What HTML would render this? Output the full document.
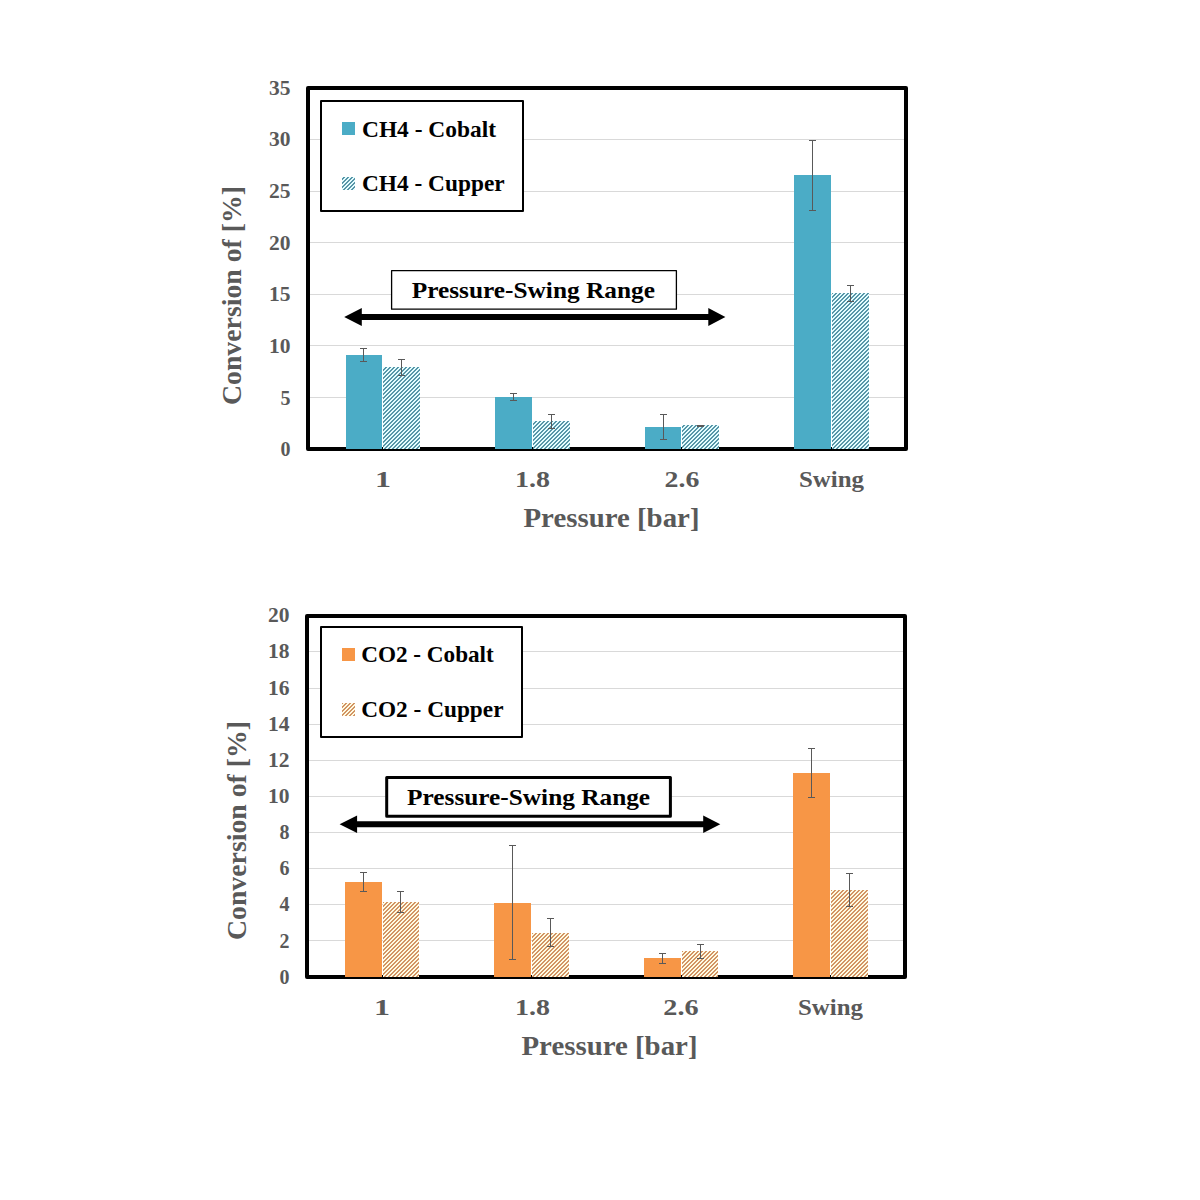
<!DOCTYPE html>
<html><head><meta charset="utf-8"><title>Conversion vs Pressure</title>
<style>html,body{margin:0;padding:0;background:#fff;width:1200px;height:1200px;overflow:hidden}svg{display:block}</style>
</head><body>
<svg width="1200" height="1200" viewBox="0 0 1200 1200" font-family="'Liberation Serif', serif" font-weight="bold">
<defs><pattern id="ph1" width="4" height="4" patternUnits="userSpaceOnUse"><rect width="4" height="4" fill="#e4fdff"/><rect x="0" y="0" width="1" height="1" fill="#5896a8"/><rect x="1" y="0" width="1" height="1" fill="#5896a8"/><rect x="0" y="1" width="1" height="1" fill="#5896a8"/><rect x="3" y="1" width="1" height="1" fill="#5896a8"/><rect x="2" y="2" width="1" height="1" fill="#5896a8"/><rect x="3" y="2" width="1" height="1" fill="#5896a8"/><rect x="1" y="3" width="1" height="1" fill="#5896a8"/><rect x="2" y="3" width="1" height="1" fill="#5896a8"/></pattern><pattern id="ph2" width="4" height="4" patternUnits="userSpaceOnUse"><rect width="4" height="4" fill="#fffbe2"/><rect x="0" y="0" width="1" height="1" fill="#d29464"/><rect x="1" y="0" width="1" height="1" fill="#d29464"/><rect x="0" y="1" width="1" height="1" fill="#d29464"/><rect x="3" y="1" width="1" height="1" fill="#d29464"/><rect x="2" y="2" width="1" height="1" fill="#d29464"/><rect x="3" y="2" width="1" height="1" fill="#d29464"/><rect x="1" y="3" width="1" height="1" fill="#d29464"/><rect x="2" y="3" width="1" height="1" fill="#d29464"/></pattern></defs>
<rect width="1200" height="1200" fill="#fff"/>
<rect x="310" y="139" width="594" height="1" fill="#d9d9d9"/>
<rect x="310" y="191" width="594" height="1" fill="#d9d9d9"/>
<rect x="310" y="242" width="594" height="1" fill="#d9d9d9"/>
<rect x="310" y="294" width="594" height="1" fill="#d9d9d9"/>
<rect x="310" y="345" width="594" height="1" fill="#d9d9d9"/>
<rect x="310" y="397" width="594" height="1" fill="#d9d9d9"/>
<rect x="308" y="88" width="598" height="361" fill="none" stroke="#000" stroke-width="4" stroke-linejoin="round"/>
<rect x="321" y="101" width="202" height="110" fill="#fff" stroke="#000" stroke-width="2" stroke-linejoin="round"/>
<rect x="391.6" y="270.6" width="284.8" height="38.6" fill="#fff" stroke="#000" stroke-width="1.3" stroke-linejoin="round"/>
<path d="M344.2,317 L361.8,308 L361.8,314.0 L708.3,314.0 L708.3,308 L725.4,317 L708.3,326 L708.3,320.0 L361.8,320.0 L361.8,326 Z" fill="#000"/>
<rect x="346" y="355" width="36" height="94" fill="#4bacc6"/>
<rect x="383" y="367" width="37" height="82" fill="url(#ph1)"/>
<rect x="495" y="397" width="37" height="52" fill="#4bacc6"/>
<rect x="533" y="421" width="37" height="28" fill="url(#ph1)"/>
<rect x="645" y="427" width="36" height="22" fill="#4bacc6"/>
<rect x="682" y="425" width="37" height="24" fill="url(#ph1)"/>
<rect x="794" y="175" width="37" height="274" fill="#4bacc6"/>
<rect x="832" y="293" width="37" height="156" fill="url(#ph1)"/>
<rect x="363" y="348" width="1" height="13" fill="#595959"/>
<rect x="360" y="348" width="7" height="1" fill="#595959"/>
<rect x="360" y="361" width="7" height="1" fill="#595959"/>
<rect x="401" y="359" width="1" height="16" fill="#595959"/>
<rect x="398" y="359" width="7" height="1" fill="#595959"/>
<rect x="398" y="375" width="7" height="1" fill="#595959"/>
<rect x="513" y="393" width="1" height="7" fill="#595959"/>
<rect x="510" y="393" width="7" height="1" fill="#595959"/>
<rect x="510" y="400" width="7" height="1" fill="#595959"/>
<rect x="551" y="414" width="1" height="14" fill="#595959"/>
<rect x="548" y="414" width="7" height="1" fill="#595959"/>
<rect x="548" y="428" width="7" height="1" fill="#595959"/>
<rect x="663" y="414" width="1" height="25" fill="#595959"/>
<rect x="660" y="414" width="7" height="1" fill="#595959"/>
<rect x="660" y="439" width="7" height="1" fill="#595959"/>
<rect x="700" y="425" width="1" height="1" fill="#595959"/>
<rect x="697" y="425" width="7" height="1" fill="#595959"/>
<rect x="697" y="426" width="7" height="1" fill="#595959"/>
<rect x="812" y="140" width="1" height="70" fill="#595959"/>
<rect x="809" y="140" width="7" height="1" fill="#595959"/>
<rect x="809" y="210" width="7" height="1" fill="#595959"/>
<rect x="850" y="285" width="1" height="16" fill="#595959"/>
<rect x="847" y="285" width="7" height="1" fill="#595959"/>
<rect x="847" y="301" width="7" height="1" fill="#595959"/>
<rect x="342" y="122" width="13" height="13" fill="#4bacc6"/>
<rect x="342" y="177" width="13" height="13" fill="url(#ph1)"/>
<text x="290.5" y="456.1" font-size="20" fill="#595959" text-anchor="end">0</text>
<text x="290.5" y="404.5" font-size="20" fill="#595959" text-anchor="end">5</text>
<text x="290.5" y="352.8" font-size="20" fill="#595959" text-anchor="end" textLength="21.5" lengthAdjust="spacingAndGlyphs">10</text>
<text x="290.5" y="301.2" font-size="20" fill="#595959" text-anchor="end" textLength="21.5" lengthAdjust="spacingAndGlyphs">15</text>
<text x="290.5" y="249.5" font-size="20" fill="#595959" text-anchor="end" textLength="21.5" lengthAdjust="spacingAndGlyphs">20</text>
<text x="290.5" y="197.9" font-size="20" fill="#595959" text-anchor="end" textLength="21.5" lengthAdjust="spacingAndGlyphs">25</text>
<text x="290.5" y="146.2" font-size="20" fill="#595959" text-anchor="end" textLength="21.5" lengthAdjust="spacingAndGlyphs">30</text>
<text x="290.5" y="94.6" font-size="20" fill="#595959" text-anchor="end" textLength="21.5" lengthAdjust="spacingAndGlyphs">35</text>
<text x="382.9" y="487" font-size="24" fill="#595959" text-anchor="middle" textLength="16" lengthAdjust="spacingAndGlyphs">1</text>
<text x="532.5" y="487" font-size="24" fill="#595959" text-anchor="middle" textLength="35" lengthAdjust="spacingAndGlyphs">1.8</text>
<text x="682" y="487" font-size="24" fill="#595959" text-anchor="middle" textLength="34.8" lengthAdjust="spacingAndGlyphs">2.6</text>
<text x="831.5" y="487" font-size="24" fill="#595959" text-anchor="middle" textLength="65" lengthAdjust="spacingAndGlyphs">Swing</text>
<text x="523.5" y="527.3" font-size="26.67" fill="#595959" textLength="176" lengthAdjust="spacingAndGlyphs">Pressure [bar]</text>
<text transform="translate(241,405) rotate(-90)" font-size="26.67" fill="#595959" textLength="219" lengthAdjust="spacingAndGlyphs">Conversion of [%]</text>
<text x="362" y="136.6" font-size="24" fill="#000" textLength="134" lengthAdjust="spacingAndGlyphs">CH4 - Cobalt</text>
<text x="362" y="190.9" font-size="24" fill="#000" textLength="142.6" lengthAdjust="spacingAndGlyphs">CH4 - Cupper</text>
<text x="411.7" y="297.8" font-size="24" fill="#000" textLength="243.3" lengthAdjust="spacingAndGlyphs">Pressure-Swing Range</text>
<rect x="309" y="940" width="594" height="1" fill="#d9d9d9"/>
<rect x="309" y="904" width="594" height="1" fill="#d9d9d9"/>
<rect x="309" y="868" width="594" height="1" fill="#d9d9d9"/>
<rect x="309" y="832" width="594" height="1" fill="#d9d9d9"/>
<rect x="309" y="796" width="594" height="1" fill="#d9d9d9"/>
<rect x="309" y="760" width="594" height="1" fill="#d9d9d9"/>
<rect x="309" y="724" width="594" height="1" fill="#d9d9d9"/>
<rect x="309" y="688" width="594" height="1" fill="#d9d9d9"/>
<rect x="309" y="651" width="594" height="1" fill="#d9d9d9"/>
<rect x="307" y="616" width="598" height="361" fill="none" stroke="#000" stroke-width="4" stroke-linejoin="round"/>
<rect x="321" y="627" width="201" height="110" fill="#fff" stroke="#000" stroke-width="2" stroke-linejoin="round"/>
<rect x="386.7" y="777.6" width="283.7" height="38.7" fill="#fff" stroke="#000" stroke-width="3" stroke-linejoin="round"/>
<path d="M339.6,824.2 L357.1,815.5 L357.1,821.2 L703.2,821.2 L703.2,815.5 L720.3,824.2 L703.2,832.9000000000001 L703.2,827.2 L357.1,827.2 L357.1,832.9000000000001 Z" fill="#000"/>
<rect x="345" y="882" width="37" height="95" fill="#f79646"/>
<rect x="383" y="902" width="36" height="75" fill="url(#ph2)"/>
<rect x="494" y="903" width="37" height="74" fill="#f79646"/>
<rect x="532" y="933" width="37" height="44" fill="url(#ph2)"/>
<rect x="644" y="958" width="37" height="19" fill="#f79646"/>
<rect x="682" y="951" width="36" height="26" fill="url(#ph2)"/>
<rect x="793" y="773" width="37" height="204" fill="#f79646"/>
<rect x="831" y="890" width="37" height="87" fill="url(#ph2)"/>
<rect x="363" y="872" width="1" height="19" fill="#595959"/>
<rect x="360" y="872" width="7" height="1" fill="#595959"/>
<rect x="360" y="891" width="7" height="1" fill="#595959"/>
<rect x="400" y="891" width="1" height="21" fill="#595959"/>
<rect x="397" y="891" width="7" height="1" fill="#595959"/>
<rect x="397" y="912" width="7" height="1" fill="#595959"/>
<rect x="512" y="845" width="1" height="114" fill="#595959"/>
<rect x="509" y="845" width="7" height="1" fill="#595959"/>
<rect x="509" y="959" width="7" height="1" fill="#595959"/>
<rect x="550" y="918" width="1" height="28" fill="#595959"/>
<rect x="547" y="918" width="7" height="1" fill="#595959"/>
<rect x="547" y="946" width="7" height="1" fill="#595959"/>
<rect x="662" y="953" width="1" height="10" fill="#595959"/>
<rect x="659" y="953" width="7" height="1" fill="#595959"/>
<rect x="659" y="963" width="7" height="1" fill="#595959"/>
<rect x="700" y="944" width="1" height="14" fill="#595959"/>
<rect x="697" y="944" width="7" height="1" fill="#595959"/>
<rect x="697" y="958" width="7" height="1" fill="#595959"/>
<rect x="811" y="748" width="1" height="49" fill="#595959"/>
<rect x="808" y="748" width="7" height="1" fill="#595959"/>
<rect x="808" y="797" width="7" height="1" fill="#595959"/>
<rect x="849" y="873" width="1" height="33" fill="#595959"/>
<rect x="846" y="873" width="7" height="1" fill="#595959"/>
<rect x="846" y="906" width="7" height="1" fill="#595959"/>
<rect x="342" y="648" width="13" height="13" fill="#f79646"/>
<rect x="342" y="703" width="13" height="13" fill="url(#ph2)"/>
<text x="289.5" y="983.6" font-size="20" fill="#595959" text-anchor="end">0</text>
<text x="289.5" y="947.5" font-size="20" fill="#595959" text-anchor="end">2</text>
<text x="289.5" y="911.4" font-size="20" fill="#595959" text-anchor="end">4</text>
<text x="289.5" y="875.2" font-size="20" fill="#595959" text-anchor="end">6</text>
<text x="289.5" y="839.0" font-size="20" fill="#595959" text-anchor="end">8</text>
<text x="289.5" y="802.9" font-size="20" fill="#595959" text-anchor="end" textLength="21.5" lengthAdjust="spacingAndGlyphs">10</text>
<text x="289.5" y="766.8" font-size="20" fill="#595959" text-anchor="end" textLength="21.5" lengthAdjust="spacingAndGlyphs">12</text>
<text x="289.5" y="730.6" font-size="20" fill="#595959" text-anchor="end" textLength="21.5" lengthAdjust="spacingAndGlyphs">14</text>
<text x="289.5" y="694.5" font-size="20" fill="#595959" text-anchor="end" textLength="21.5" lengthAdjust="spacingAndGlyphs">16</text>
<text x="289.5" y="658.3" font-size="20" fill="#595959" text-anchor="end" textLength="21.5" lengthAdjust="spacingAndGlyphs">18</text>
<text x="289.5" y="622.1" font-size="20" fill="#595959" text-anchor="end" textLength="21.5" lengthAdjust="spacingAndGlyphs">20</text>
<text x="382" y="1015" font-size="24" fill="#595959" text-anchor="middle" textLength="16" lengthAdjust="spacingAndGlyphs">1</text>
<text x="532.5" y="1015" font-size="24" fill="#595959" text-anchor="middle" textLength="35" lengthAdjust="spacingAndGlyphs">1.8</text>
<text x="681" y="1015" font-size="24" fill="#595959" text-anchor="middle" textLength="35.3" lengthAdjust="spacingAndGlyphs">2.6</text>
<text x="830.5" y="1015" font-size="24" fill="#595959" text-anchor="middle" textLength="65" lengthAdjust="spacingAndGlyphs">Swing</text>
<text x="521.5" y="1054.6" font-size="26.67" fill="#595959" textLength="176" lengthAdjust="spacingAndGlyphs">Pressure [bar]</text>
<text transform="translate(246,940) rotate(-90)" font-size="26.67" fill="#595959" textLength="219" lengthAdjust="spacingAndGlyphs">Conversion of [%]</text>
<text x="361.2" y="661.6" font-size="24" fill="#000" textLength="132.6" lengthAdjust="spacingAndGlyphs">CO2 - Cobalt</text>
<text x="361.2" y="716.8" font-size="24" fill="#000" textLength="142.3" lengthAdjust="spacingAndGlyphs">CO2 - Cupper</text>
<text x="407.1" y="804.6" font-size="24" fill="#000" textLength="243" lengthAdjust="spacingAndGlyphs">Pressure-Swing Range</text>
</svg>
</body></html>
